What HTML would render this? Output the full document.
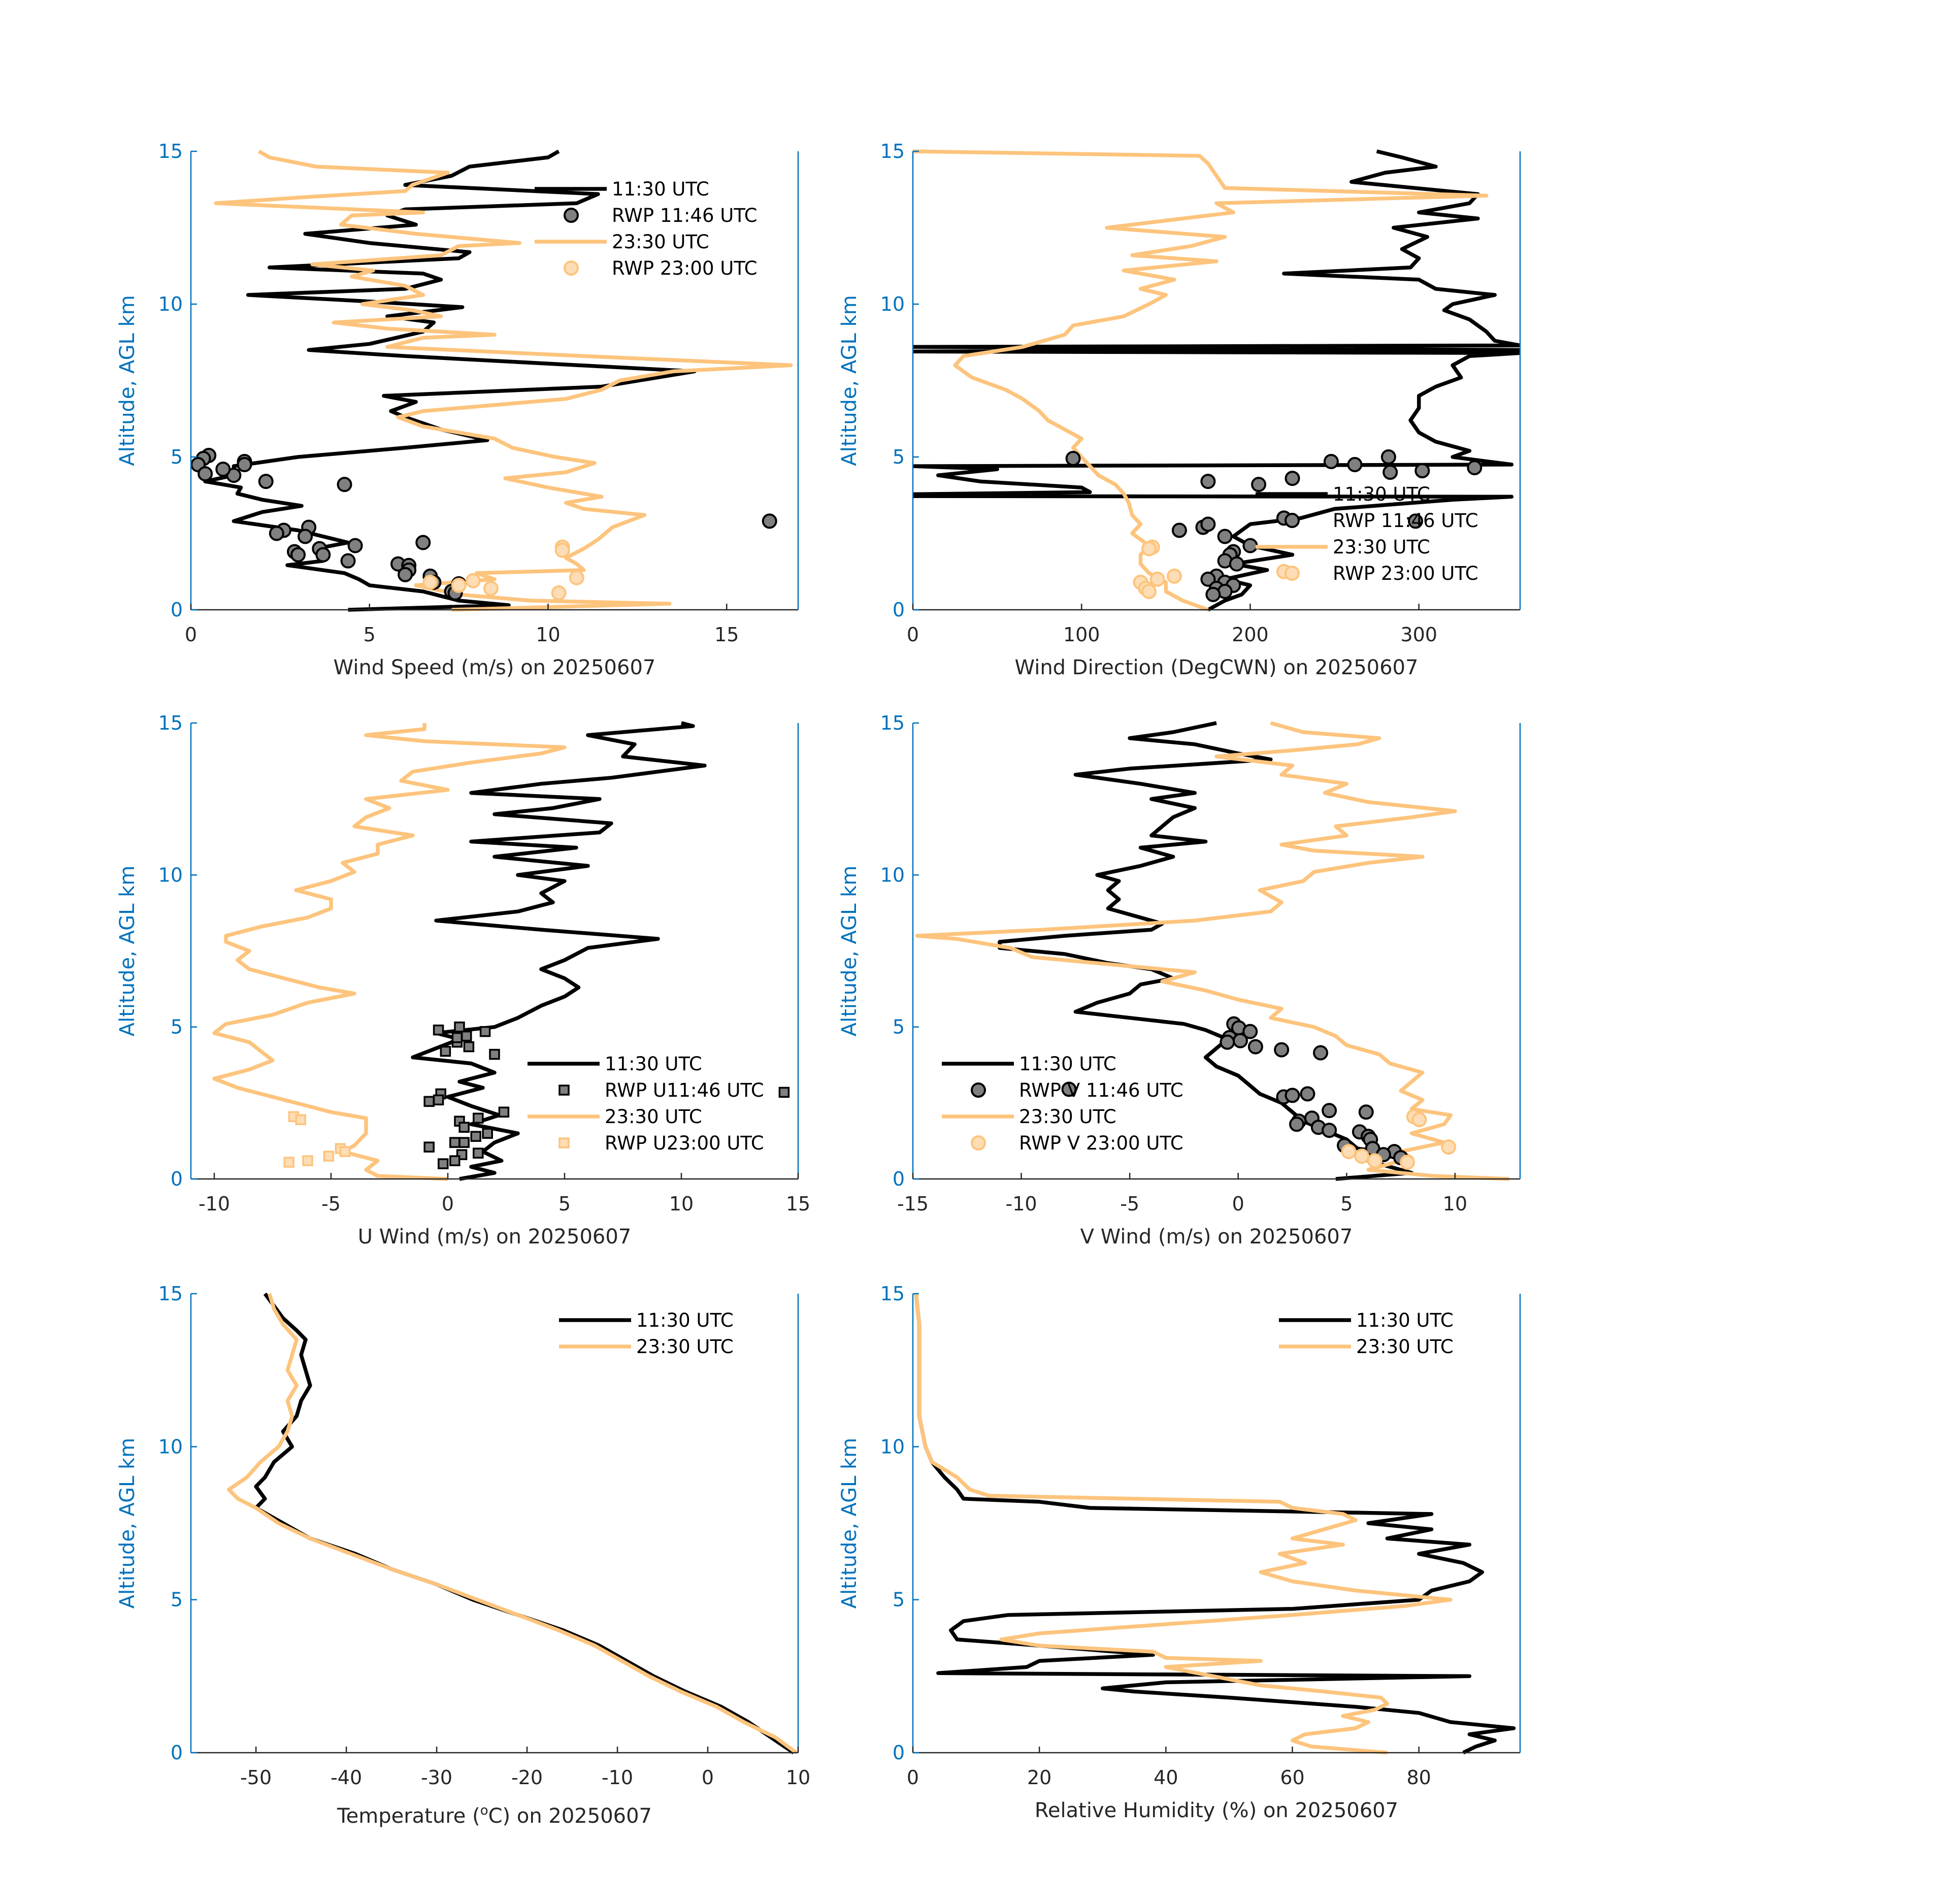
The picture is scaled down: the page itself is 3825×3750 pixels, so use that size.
<!DOCTYPE html>
<html><head><meta charset="utf-8"><title>Profiles 20250607</title>
<style>
html,body{margin:0;padding:0;background:#fff;}
svg{display:block;font-family:"DejaVu Sans","Liberation Sans",sans-serif;}
</style></head>
<body>
<svg id="fig" xmlns="http://www.w3.org/2000/svg" width="3825" height="3750" viewBox="0 0 3825 3750">
<rect width="3825" height="3750" fill="#fff"/>
</svg>
<script>
// ---- data: [value, altitude km] ----
const ws1130=[[4.4,0],[8.9,0.15],[7.5,0.3],[6.5,0.6],[5.0,0.8],[4.7,1.0],[4.3,1.2],[2.7,1.46],[3.7,1.6],[3.5,2.0],[4.4,2.2],[3.0,2.6],[1.2,2.9],[2.0,3.2],[3.1,3.4],[2.0,3.6],[1.3,3.8],[1.4,4.0],[0.4,4.2],[1.2,4.4],[1.2,4.7],[3.0,5.0],[6.0,5.3],[8.3,5.55],[7.0,5.9],[6.0,6.3],[5.6,6.5],[6.3,6.8],[5.4,7.0],[11.5,7.3],[14.1,7.8],[6.0,8.3],[3.3,8.5],[5.0,8.7],[6.5,9.1],[6.8,9.4],[5.5,9.6],[7.6,9.9],[4.8,10.1],[1.6,10.3],[6.0,10.5],[7.0,10.8],[6.5,11.0],[2.2,11.2],[7.5,11.5],[7.8,11.7],[5.0,12.0],[3.2,12.3],[6.3,12.6],[5.5,12.9],[6.0,13.1],[10.8,13.3],[11.4,13.6],[6.0,13.9],[7.3,14.2],[7.8,14.5],[10.0,14.8],[10.3,15.0]];
const ws2330=[[7.3,0],[13.4,0.2],[9.5,0.3],[7.5,0.5],[6.3,0.8],[8.5,1.0],[8.0,1.2],[11.0,1.3],[10.8,1.5],[10.5,1.7],[11.0,2.0],[11.4,2.3],[11.8,2.7],[12.7,3.1],[11.0,3.3],[10.5,3.5],[11.5,3.7],[10.0,4.0],[8.8,4.3],[10.5,4.5],[11.3,4.8],[10.2,5.0],[9.0,5.3],[8.5,5.6],[6.5,6.0],[5.8,6.3],[6.5,6.5],[10.5,6.9],[11.5,7.2],[12.0,7.5],[13.5,7.8],[16.8,8.0],[11.0,8.3],[5.5,8.6],[6.5,8.9],[8.5,9.0],[5.5,9.2],[4.0,9.4],[7.0,9.6],[6.2,9.8],[4.8,10.0],[6.5,10.3],[6.0,10.6],[4.5,10.9],[5.1,11.1],[3.4,11.3],[7.0,11.6],[7.5,11.9],[9.2,12.0],[6.3,12.3],[4.2,12.6],[4.5,12.9],[6.5,13.0],[0.7,13.3],[3.2,13.5],[6.0,13.7],[6.2,13.9],[7.2,14.3],[3.5,14.5],[2.2,14.8],[1.9,15.0]];
const wsRwp1146=[[0.5,5.05],[0.35,4.95],[0.2,4.75],[0.4,4.45],[1.5,4.85],[1.5,4.75],[1.2,4.4],[0.9,4.6],[2.1,4.2],[4.3,4.1],[16.2,2.9],[3.3,2.7],[2.6,2.6],[2.4,2.5],[3.2,2.4],[6.5,2.2],[4.6,2.1],[3.6,2.0],[2.9,1.9],[3.0,1.8],[3.7,1.8],[4.4,1.6],[5.8,1.5],[6.1,1.45],[6.1,1.3],[6.0,1.15],[6.7,1.1],[6.8,0.9],[7.5,0.85],[7.3,0.6],[7.4,0.55]];
const wsRwp2300=[[10.4,2.05],[10.4,1.95],[10.8,1.05],[7.9,0.95],[6.7,0.9],[7.5,0.8],[8.4,0.7],[10.3,0.55]];

const wd1130=[[175,0],[185,0.3],[195,0.5],[200,0.8],[185,1.0],[210,1.3],[190,1.5],[225,1.8],[200,2.1],[190,2.4],[200,2.8],[230,3.0],[250,3.3],[320,3.6],[355,3.7],[0,3.72],[0,3.78],[105,3.85],[100,4.0],[40,4.2],[15,4.4],[50,4.6],[0,4.7],[355,4.75],[320,5.0],[330,5.2],[310,5.5],[300,5.8],[295,6.2],[300,6.6],[300,7.0],[310,7.3],[325,7.6],[320,8.0],[330,8.3],[360,8.4],[0,8.45],[360,8.5],[0,8.6],[360,8.65],[345,8.8],[340,9.1],[330,9.5],[315,9.8],[320,10.0],[345,10.3],[310,10.5],[300,10.8],[220,11.0],[295,11.2],[300,11.5],[290,11.8],[305,12.2],[285,12.5],[335,12.8],[300,13.0],[330,13.3],[335,13.6],[260,14.0],[280,14.3],[310,14.5],[290,14.8],[275,15.0]];
const wd2330=[[175,0],[160,0.3],[150,0.6],[150,0.9],[140,1.2],[135,1.5],[135,1.8],[140,2.1],[130,2.5],[135,2.8],[130,3.1],[128,3.5],[125,3.8],[120,4.1],[110,4.4],[105,4.7],[100,5.0],[95,5.3],[100,5.6],[90,5.9],[80,6.2],[75,6.5],[65,6.9],[55,7.2],[35,7.6],[25,8.0],[30,8.3],[65,8.6],[90,9.0],[95,9.3],[125,9.6],[140,10.0],[150,10.3],[135,10.5],[155,10.8],[125,11.1],[180,11.4],[130,11.6],[165,11.9],[185,12.2],[115,12.5],[160,12.8],[190,13.0],[180,13.3],[340,13.55],[185,13.8],[180,14.2],[175,14.6],[170,14.85],[0,15.0]];
const wdRwp1146=[[95,4.95],[175,4.2],[205,4.1],[225,4.3],[248,4.85],[262,4.75],[282,5.0],[283,4.5],[302,4.55],[333,4.65],[298,2.9],[220,3.0],[158,2.6],[172,2.7],[175,2.8],[185,2.4],[200,2.1],[190,1.9],[188,1.8],[185,1.6],[192,1.5],[180,1.1],[175,1.0],[185,0.9],[190,0.8],[180,0.7],[185,0.6],[178,0.5]];
const wdRwp2300=[[142,2.05],[140,2.0],[220,1.25],[155,1.1],[145,1.0],[135,0.9],[138,0.7],[140,0.6]];

const u1130=[[0.5,0],[2.0,0.2],[1.0,0.4],[2.3,0.6],[1.5,0.9],[2.0,1.2],[3.0,1.5],[1.0,1.8],[2.2,2.1],[1.0,2.4],[0.0,2.7],[1.5,3.0],[0.5,3.2],[2.0,3.5],[1.0,3.8],[-1.5,4.0],[-0.5,4.3],[0.5,4.6],[-0.5,4.8],[2.0,5.0],[3.0,5.3],[4.0,5.7],[5.0,6.0],[5.6,6.3],[5.0,6.6],[4.0,6.9],[5.0,7.2],[6.0,7.6],[9.0,7.9],[4.0,8.2],[-0.5,8.5],[3.0,8.8],[4.5,9.1],[4.0,9.4],[5.0,9.8],[3.0,10.0],[6.0,10.3],[2.0,10.6],[5.5,10.9],[1.0,11.1],[6.5,11.4],[7.0,11.7],[2.0,12.0],[4.5,12.2],[6.5,12.5],[1.0,12.7],[4.0,13.0],[7.0,13.2],[11.0,13.6],[7.5,13.9],[8.0,14.3],[6.0,14.6],[10.5,14.9],[10.0,15.0]];
const u2330=[[0,0],[-3.0,0.1],[-3.5,0.3],[-3.0,0.6],[-4.5,0.9],[-4.0,1.1],[-3.5,1.5],[-3.5,2.0],[-5.0,2.2],[-6.0,2.4],[-7.5,2.7],[-9.0,3.0],[-10.0,3.3],[-8.5,3.6],[-7.5,3.9],[-8.0,4.2],[-8.5,4.5],[-10.0,4.8],[-9.5,5.1],[-7.5,5.4],[-6.0,5.8],[-4.0,6.1],[-5.5,6.3],[-7.0,6.6],[-8.5,6.9],[-9.0,7.2],[-8.5,7.5],[-9.5,7.8],[-9.5,8.0],[-8.0,8.3],[-6.0,8.6],[-5.0,8.9],[-5.0,9.2],[-6.5,9.5],[-5.0,9.8],[-4.0,10.1],[-4.5,10.4],[-3.0,10.7],[-3.0,11.0],[-1.5,11.3],[-4.0,11.6],[-3.5,11.9],[-2.5,12.2],[-3.5,12.5],[0.0,12.8],[-2.0,13.1],[-1.5,13.4],[1.0,13.7],[4.0,14.0],[5.0,14.2],[-1.0,14.4],[-3.5,14.6],[-1.0,14.8],[-1.0,15.0]];
const uRwp1146=[[-0.4,4.9],[0.5,5.0],[1.6,4.85],[0.4,4.5],[0.9,4.35],[-0.1,4.2],[2.0,4.1],[0.4,4.65],[0.8,4.7],[-0.3,2.8],[-0.4,2.6],[-0.8,2.55],[2.4,2.2],[0.5,1.9],[1.3,2.0],[0.7,1.7],[1.7,1.5],[1.2,1.4],[0.3,1.2],[0.7,1.2],[-0.8,1.05],[1.3,0.85],[0.6,0.8],[0.3,0.6],[-0.2,0.5],[14.4,2.85]];
const uRwp2300=[[-6.6,2.05],[-6.3,1.95],[-4.6,1.0],[-4.4,0.9],[-5.1,0.75],[-6.0,0.6],[-6.8,0.55]];

const v1130=[[4.5,0],[8.0,0.2],[7.0,0.4],[6.0,0.6],[7.5,0.8],[5.5,1.0],[5.0,1.3],[4.0,1.6],[3.0,1.9],[2.5,2.2],[2.0,2.5],[1.0,2.8],[0.5,3.1],[0,3.4],[-1,3.7],[-1.5,4.0],[-1.0,4.3],[-0.5,4.6],[-1.5,4.9],[-2.5,5.1],[-5.0,5.3],[-7.5,5.5],[-6.5,5.8],[-5.0,6.1],[-4.5,6.4],[-3.0,6.6],[-4.0,6.9],[-6.0,7.1],[-8.0,7.4],[-11,7.6],[-11,7.8],[-8.0,8.0],[-4.0,8.2],[-3.5,8.4],[-4.5,8.6],[-6.0,8.9],[-5.5,9.2],[-6.0,9.5],[-5.5,9.8],[-6.5,10.0],[-4.5,10.3],[-3.0,10.6],[-4.5,10.9],[-1.5,11.1],[-4.0,11.3],[-3.5,11.6],[-3.0,11.9],[-2.0,12.2],[-4.0,12.5],[-2.0,12.7],[-4.5,13.0],[-7.5,13.3],[-5.0,13.5],[1.5,13.8],[0,14.0],[-2.0,14.3],[-5.0,14.5],[-3.0,14.7],[-1.0,15.0]];
const v2330=[[12.5,0],[9.0,0.1],[6.0,0.3],[7.0,0.5],[8.0,0.7],[7.5,0.9],[9.5,1.2],[8.0,1.5],[9.5,1.8],[9.8,2.1],[8.0,2.3],[8.5,2.6],[7.5,2.9],[8.0,3.2],[8.5,3.5],[7.0,3.8],[6.5,4.1],[5.0,4.4],[4.5,4.7],[3.5,5.0],[1.5,5.3],[2.0,5.6],[0.0,5.9],[-1.5,6.2],[-3.5,6.5],[-2.0,6.8],[-5.0,7.0],[-9.5,7.3],[-10.5,7.6],[-13,7.9],[-14.8,8.0],[-9.0,8.2],[-2.0,8.5],[1.5,8.8],[2.0,9.1],[1.0,9.5],[3.0,9.8],[3.5,10.1],[6.0,10.4],[8.5,10.6],[3.5,10.8],[2.0,11.0],[5.0,11.3],[4.5,11.6],[8.0,11.9],[10.0,12.1],[6.0,12.4],[4.0,12.7],[5.0,13.0],[2.0,13.3],[2.5,13.6],[-1.0,13.9],[2.5,14.1],[5.5,14.3],[6.5,14.5],[3.0,14.7],[1.5,15.0]];
const vRwp1146=[[-0.2,5.1],[0.03,4.97],[0.55,4.85],[-0.4,4.65],[-0.5,4.5],[0.1,4.55],[0.8,4.35],[2.0,4.25],[3.8,4.15],[2.1,2.7],[2.5,2.75],[3.2,2.8],[4.2,2.25],[5.9,2.2],[2.8,1.9],[3.4,2.0],[3.7,1.7],[4.2,1.6],[5.6,1.55],[6.0,1.4],[6.1,1.3],[2.7,1.8],[4.9,1.1],[6.2,1.0],[7.2,0.9],[6.7,0.8],[7.5,0.7],[-7.8,2.95]];
const vRwp2300=[[8.1,2.05],[8.35,1.95],[9.7,1.05],[5.1,0.9],[5.7,0.75],[6.3,0.6],[7.8,0.55]];

const t1130=[[9.5,0],[7,0.5],[4.5,1.0],[1.5,1.5],[-2.5,2.0],[-6,2.5],[-9,3.0],[-12,3.5],[-16,4.0],[-21,4.5],[-26,5.0],[-30,5.5],[-35,6.0],[-39,6.5],[-44,7.0],[-47,7.5],[-50,8.0],[-49,8.3],[-50,8.7],[-49,9.0],[-48,9.5],[-46,10.0],[-47,10.5],[-45.5,11.0],[-45,11.5],[-44,12.0],[-44.5,12.5],[-45,13.0],[-44.5,13.5],[-45.5,13.8],[-47,14.2],[-48,14.6],[-49,15.0]];
const t2330=[[9.8,0],[7.5,0.5],[4,1.0],[1,1.5],[-3,2.0],[-6.5,2.5],[-9.5,3.0],[-12.5,3.5],[-16.5,4.0],[-21,4.5],[-25.5,5.0],[-30,5.5],[-35,6.0],[-39.5,6.5],[-44,7.0],[-47.5,7.5],[-50,8.0],[-52,8.3],[-53,8.6],[-51,9.0],[-49.5,9.5],[-47.5,10.0],[-46.5,10.5],[-46,11.0],[-46.5,11.5],[-45.5,12.0],[-46.5,12.5],[-46,13.0],[-45.5,13.5],[-47,14.0],[-48,14.5],[-48.5,15.0]];

const rh1130=[[87,0],[89,0.2],[92,0.4],[88,0.6],[95,0.8],[85,1.0],[80,1.3],[70,1.5],[50,1.8],[35,2.0],[30,2.1],[40,2.3],[88,2.5],[4,2.6],[18,2.8],[20,3.0],[38,3.2],[20,3.5],[7,3.7],[6,4.0],[8,4.3],[15,4.5],[60,4.7],[80,5.0],[82,5.3],[88,5.6],[90,5.9],[87,6.2],[80,6.5],[88,6.8],[75,7.0],[82,7.3],[72,7.5],[82,7.8],[28,8.0],[20,8.2],[8,8.3],[7,8.6],[5,9.0],[3,9.5],[2,10.0],[1,11],[1,12],[1,13],[1,14],[0.5,15]];
const rh2330=[[75,0],[63,0.2],[60,0.4],[62,0.6],[70,0.8],[72,1.0],[68,1.2],[73,1.4],[75,1.6],[74,1.8],[65,2.0],[55,2.2],[50,2.4],[45,2.6],[40,2.8],[55,3.0],[40,3.1],[38,3.3],[20,3.5],[14,3.7],[20,3.9],[40,4.2],[60,4.5],[78,4.8],[85,5.0],[70,5.3],[60,5.6],[55,5.9],[62,6.2],[58,6.5],[68,6.8],[60,7.0],[65,7.3],[70,7.6],[68,7.8],[60,8.0],[58,8.2],[12,8.4],[9,8.6],[7,9.0],[3,9.5],[2,10],[1,11],[1,12],[1,13],[1,14],[0.5,15]];

// tick labels
const yTicks=[0,5,10,15];
const wsTicks=[0,5,10,15];
const wdTicks=[0,100,200,300];
const uTicks=[-10,-5,0,5,10,15];
const vTicks=[-15,-10,-5,0,5,10];
const tTicks=[-50,-40,-30,-20,-10,0,10];
const rhTicks=[0,20,40,60,80];

const NS='http://www.w3.org/2000/svg';
const svg=document.getElementById('fig');
const BLK='#000000', ORG='#FDC47D', ORGF='#FDDDB5', BLUE='#0072BD', AX='#262626';
const TF=38, LF=40, GF=37;
function mk(tag,attrs,parent){const e=document.createElementNS(NS,tag);for(const k in attrs)e.setAttribute(k,attrs[k]);(parent||svg).appendChild(e);return e;}

function panel(cfg){
  const g=mk('g',{});
  
  
  const L=cfg.x0,R=cfg.x1,T=cfg.y0,B=cfg.y1;
  const sx=v=>L+(v-cfg.xmin)/(cfg.xmax-cfg.xmin)*(R-L);
  const sy=a=>B-(a-0)/(15-0)*(B-T);
  const clip='clip-'+cfg.name;
  const cp=mk('clipPath',{id:clip},g);mk('rect',{x:L,y:T-4,width:R-L,height:B-T+8},cp);
  const plot=mk('g',{'clip-path':'url(#'+clip+')'},g);
  
  
  cfg.lines.forEach(s=>{
    const p=mk('polyline',{points:s.data.map(d=>sx(d[0]).toFixed(1)+','+sy(d[1]).toFixed(1)).join(' '),fill:'none',stroke:s.color,'stroke-width':7.5,'stroke-linejoin':'round'},plot);
    
    
  });
  cfg.markers.forEach(s=>{
    s.data.forEach(d=>{
      let m;
      if(s.shape==='sq') m=mk('rect',{x:sx(d[0])-9,y:sy(d[1])-9,width:18,height:18,fill:s.fill,stroke:s.edge,'stroke-width':3.5},plot);
      else m=mk('circle',{cx:sx(d[0]),cy:sy(d[1]),r:13,fill:s.fill,stroke:s.edge,'stroke-width':4},plot);
      
      
    });
  });
  mk('line',{x1:L,y1:B,x2:R,y2:B,stroke:AX,'stroke-width':2.5},g);
  const la=mk('line',{x1:L,y1:T,x2:L,y2:B,stroke:BLUE,'stroke-width':2.5},g);
  
  mk('line',{x1:R,y1:T,x2:R,y2:B,stroke:BLUE,'stroke-width':2.5},g);
  yTicks.forEach(t=>{
    mk('line',{x1:L,y1:sy(t),x2:L+12,y2:sy(t),stroke:BLUE,'stroke-width':2.5},g);
    const tx=mk('text',{x:L-16,y:sy(t)+13,'text-anchor':'end','font-size':TF,fill:BLUE},g);
    tx.textContent=t;
    
  });
  cfg.xticks.forEach(t=>{
    mk('line',{x1:sx(t),y1:B,x2:sx(t),y2:B-12,stroke:AX,'stroke-width':2.5},g);
    const tx=mk('text',{x:sx(t),y:B+62,'text-anchor':'middle','font-size':TF,fill:AX},g);
    tx.textContent=t;
    
  });
  const yl=mk('text',{x:0,y:0,transform:'translate('+(L-112)+','+((T+B)/2)+') rotate(-90)','text-anchor':'middle','font-size':LF,fill:BLUE},g);
  yl.textContent='Altitude, AGL km';
  
  const xl=mk('text',{x:(L+R)/2,y:B+cfg.xlOff,'text-anchor':'middle','font-size':LF,fill:AX},g);
  xl.innerHTML=cfg.xlabel;
  
  const lg=mk('g',{},g);
  
  cfg.legend.items.forEach((it,i)=>{
    const y=cfg.legend.y+i*52;
    const lx=cfg.legend.x;
    if(it.type==='line') mk('line',{x1:lx-152,y1:y,x2:lx-10,y2:y,stroke:it.color,'stroke-width':7.5},lg);
    else if(it.type==='sq') mk('rect',{x:lx-89,y:y-9,width:18,height:18,fill:it.fill,stroke:it.edge,'stroke-width':3.5},lg);
    else mk('circle',{cx:lx-80,cy:y,r:13,fill:it.fill,stroke:it.edge,'stroke-width':4},lg);
    const tx=mk('text',{x:lx,y:y+13,'font-size':GF,fill:'#000'},lg);
    tx.textContent=it.label;
    
  });
}
const C1=[376,1572],C2=[1798,2994],R1=[298,1201],R2=[1424,2322],R3=[2548,3452];
function std(a,b,c,d){return [{type:'line',color:BLK,label:a},{type:c,fill:'#808080',edge:BLK,label:b},{type:'line',color:ORG,label:d[0]},{type:c,fill:ORGF,edge:ORG,label:d[1]}];}
panel({name:'wind-speed-panel',x0:C1[0],x1:C1[1],y0:R1[0],y1:R1[1],xmin:0,xmax:17,xticks:wsTicks,xlOff:127,xlabel:'Wind Speed (m/s) on 20250607',
  lines:[{id:'ws-1130-line',data:ws1130,color:BLK},{id:'ws-2330-line',data:ws2330,color:ORG}],
  markers:[{id:'ws-rwp-1146',data:wsRwp1146,fill:'#808080',edge:BLK},{id:'ws-rwp-2300',data:wsRwp2300,fill:ORGF,edge:ORG}],
  legend:{x:1205,y:372,items:std('11:30 UTC','RWP 11:46 UTC','c',['23:30 UTC','RWP 23:00 UTC'])}});
panel({name:'wind-direction-panel',x0:C2[0],x1:C2[1],y0:R1[0],y1:R1[1],xmin:0,xmax:360,xticks:wdTicks,xlOff:127,xlabel:'Wind Direction (DegCWN) on 20250607',
  lines:[{id:'wd-1130-line',data:wd1130,color:BLK},{id:'wd-2330-line',data:wd2330,color:ORG}],
  markers:[{id:'wd-rwp-1146',data:wdRwp1146,fill:'#808080',edge:BLK},{id:'wd-rwp-2300',data:wdRwp2300,fill:ORGF,edge:ORG}],
  legend:{x:2625,y:973,items:std('11:30 UTC','RWP 11:46 UTC','c',['23:30 UTC','RWP 23:00 UTC'])}});
panel({name:'u-wind-panel',x0:C1[0],x1:C1[1],y0:R2[0],y1:R2[1],xmin:-11,xmax:15,xticks:uTicks,xlOff:127,xlabel:'U Wind (m/s) on 20250607',
  lines:[{id:'u-1130-line',data:u1130,color:BLK},{id:'u-2330-line',data:u2330,color:ORG}],
  markers:[{id:'u-rwp-1146',data:uRwp1146,fill:'#808080',edge:BLK,shape:'sq'},{id:'u-rwp-2300',data:uRwp2300,fill:ORGF,edge:ORG,shape:'sq'}],
  legend:{x:1191,y:2095,items:std('11:30 UTC','RWP U11:46 UTC','sq',['23:30 UTC','RWP U23:00 UTC'])}});
panel({name:'v-wind-panel',x0:C2[0],x1:C2[1],y0:R2[0],y1:R2[1],xmin:-15,xmax:13,xticks:vTicks,xlOff:127,xlabel:'V Wind (m/s) on 20250607',
  lines:[{id:'v-1130-line',data:v1130,color:BLK},{id:'v-2330-line',data:v2330,color:ORG}],
  markers:[{id:'v-rwp-1146',data:vRwp1146,fill:'#808080',edge:BLK},{id:'v-rwp-2300',data:vRwp2300,fill:ORGF,edge:ORG}],
  legend:{x:2007,y:2095,items:std('11:30 UTC','RWP V 11:46 UTC','c',['23:30 UTC','RWP V 23:00 UTC'])}});
panel({name:'temperature-panel',x0:C1[0],x1:C1[1],y0:R3[0],y1:R3[1],xmin:-57.2,xmax:10,xticks:tTicks,xlOff:138,xlabel:'Temperature (<tspan font-size="26" dy="-16">o</tspan><tspan dy="16">C) on 20250607</tspan>',
  lines:[{id:'t-1130-line',data:t1130,color:BLK},{id:'t-2330-line',data:t2330,color:ORG}],markers:[],
  legend:{x:1253,y:2600,items:[{type:'line',color:BLK,label:'11:30 UTC'},{type:'line',color:ORG,label:'23:30 UTC'}]}});
panel({name:'relative-humidity-panel',x0:C2[0],x1:C2[1],y0:R3[0],y1:R3[1],xmin:0,xmax:96,xticks:rhTicks,xlOff:127,xlabel:'Relative Humidity (%) on 20250607',
  lines:[{id:'rh-1130-line',data:rh1130,color:BLK},{id:'rh-2330-line',data:rh2330,color:ORG}],markers:[],
  legend:{x:2671,y:2600,items:[{type:'line',color:BLK,label:'11:30 UTC'},{type:'line',color:ORG,label:'23:30 UTC'}]}});
</script>
</body></html>
